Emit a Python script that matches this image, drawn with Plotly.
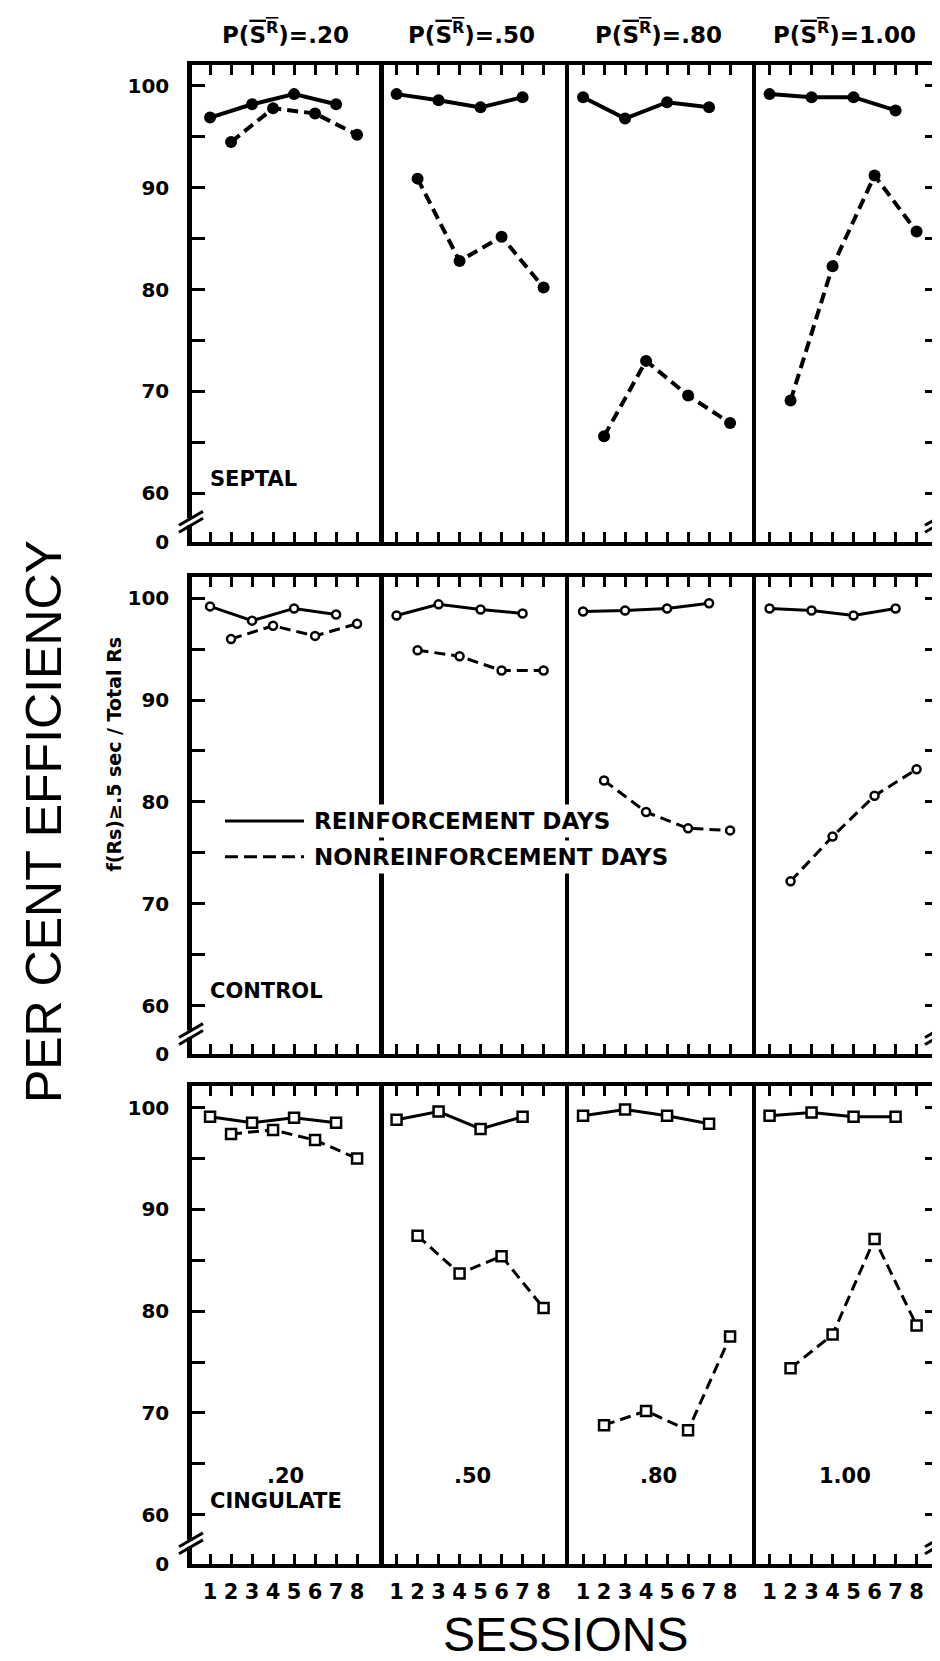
import plotly.graph_objects as go

# ---------------- data ----------------
prob_labels = [".20", ".50", ".80", "1.00"]
group_names = ["SEPTAL", "CONTROL", "CINGULATE"]
sessions_reinf = [1, 3, 5, 7]
sessions_nonreinf = [2, 4, 6, 8]
session_ticks = [1, 2, 3, 4, 5, 6, 7, 8]

septal_reinf = [[96.9, 98.2, 99.2, 98.2], [99.2, 98.6, 97.9, 98.9],
                [98.9, 96.8, 98.4, 97.9], [99.2, 98.9, 98.9, 97.6]]
septal_nonreinf = [[94.5, 97.8, 97.3, 95.2], [90.9, 82.8, 85.2, 80.2],
                   [65.6, 73.0, 69.6, 66.9], [69.1, 82.3, 91.2, 85.7]]
control_reinf = [[99.2, 97.8, 99.0, 98.4], [98.3, 99.4, 98.9, 98.5],
                 [98.7, 98.8, 99.0, 99.5], [99.0, 98.8, 98.3, 99.0]]
control_nonreinf = [[96.0, 97.3, 96.3, 97.5], [94.9, 94.3, 92.9, 92.9],
                    [82.1, 79.0, 77.4, 77.2], [72.2, 76.6, 80.6, 83.2]]
cingulate_reinf = [[99.1, 98.5, 99.0, 98.5], [98.8, 99.6, 97.9, 99.1],
                   [99.2, 99.8, 99.2, 98.4], [99.2, 99.5, 99.1, 99.1]]
cingulate_nonreinf = [[97.4, 97.8, 96.8, 95.0], [87.4, 83.7, 85.4, 80.3],
                      [68.8, 70.2, 68.3, 77.5], [74.4, 77.7, 87.1, 78.6]]

y_tickvals = [55.2, 60, 70, 80, 90, 100]
y_ticktext = ["0", "60", "70", "80", "90", "100"]
y_minor_vals = [65, 75, 85, 95]

reinf_data = [septal_reinf, control_reinf, cingulate_reinf]
nonreinf_data = [septal_nonreinf, control_nonreinf, cingulate_nonreinf]

# ---------------- layout geometry ----------------
W, H = 940, 1661
FONT = "Liberation Sans, Arial, sans-serif"
FONT_B = "DejaVu Sans, Liberation Sans, sans-serif"
x_left, panel_w = 184, 186.5
rows_px = [(57, 538), (573, 1054), (1086, 1567)]
x_range = [0.14, 9.02]
y_range = [55.2, 102.1]


def px(x):
    return x / W


def py(y):
    return 1 - y / H


marker_styles = [
    dict(symbol="circle", size=12, color="black", line=dict(color="black", width=0)),
    dict(symbol="circle", size=8, color="white", line=dict(color="black", width=2.5)),
    dict(symbol="square", size=10, color="white", line=dict(color="black", width=2.5)),
]
line_widths = [4, 3, 3]

fig = go.Figure()
layout_axes = {}
annotations = []
shapes = []

for r in range(3):
    top, bot = rows_px[r]
    for c in range(4):
        idx = r * 4 + c + 1
        xa = "x" if idx == 1 else f"x{idx}"
        ya = "y" if idx == 1 else f"y{idx}"
        xname = "xaxis" if idx == 1 else f"xaxis{idx}"
        yname = "yaxis" if idx == 1 else f"yaxis{idx}"
        x0 = x_left + c * panel_w
        layout_axes[xname] = dict(
            domain=[px(x0), px(x0 + panel_w)], anchor=ya, range=x_range,
            tickvals=session_ticks, ticktext=[str(s) for s in session_ticks],
            ticks="inside", ticklen=10, tickwidth=3, tickcolor="black",
            showline=True, linewidth=4, linecolor="black", mirror="ticks",
            showgrid=False, zeroline=False, fixedrange=True,
            showticklabels=(r == 2), ticklabelstandoff=6,
            tickfont=dict(family=FONT_B, size=21, color="black", weight="bold"),
        )
        ycfg = dict(
            domain=[py(bot), py(top)], anchor=xa, range=y_range,
            showline=True, linecolor="black",
            showgrid=False, zeroline=False, fixedrange=True,
            tickvals=y_tickvals, ticktext=y_ticktext,
            tickfont=dict(family=FONT_B, size=20, color="black", weight="bold"),
        )
        if c == 0:
            ycfg.update(linewidth=4.5, mirror=True, ticks="inside", ticklen=13,
                        tickwidth=3, tickcolor="black", showticklabels=True,
                        ticklabelstandoff=14,
                        minor=dict(tickvals=y_minor_vals, ticks="inside", ticklen=13,
                                   tickwidth=3, tickcolor="black"))
        elif c == 3:
            ycfg.update(linewidth=4.5, side="right", mirror=False, ticks="inside",
                        ticklen=13, tickwidth=3, tickcolor="black",
                        showticklabels=False,
                        minor=dict(tickvals=y_minor_vals, ticks="inside", ticklen=13,
                                   tickwidth=3, tickcolor="black"))
        else:
            ycfg.update(linewidth=3.5, side="right", mirror=False, ticks="",
                        showticklabels=False)
        layout_axes[yname] = ycfg

        ms = marker_styles[r]
        fig.add_trace(go.Scatter(
            x=sessions_reinf, y=reinf_data[r][c], xaxis=xa, yaxis=ya,
            mode="lines+markers", showlegend=False, cliponaxis=False,
            line=dict(color="black", width=line_widths[r], dash="solid"),
            marker=ms, name="REINFORCEMENT DAYS"))
        fig.add_trace(go.Scatter(
            x=sessions_nonreinf, y=nonreinf_data[r][c], xaxis=xa, yaxis=ya,
            mode="lines+markers", showlegend=False, cliponaxis=False,
            line=dict(color="black", width=line_widths[r], dash="11px,6px"),
            marker=ms, name="NONREINFORCEMENT DAYS"))

        if r == 2:
            annotations.append(dict(
                x=4.6, y=63.8, xref=xa, yref=ya, text=f"<b>{prob_labels[c]}</b>",
                xanchor="center", yanchor="middle",
                showarrow=False, font=dict(family=FONT_B, size=21, color="black")))
        if r == 0:
            annotations.append(dict(
                x=px(x0 + panel_w / 2), y=py(25), xref="paper", yref="paper",
                xanchor="center", yanchor="middle",
                text=f"<b>P(<span style='text-decoration:overline'>S<sup>R</sup></span>)=</b><b>{prob_labels[c]}</b>",
                showarrow=False, font=dict(family=FONT_B, size=23, color="black")))

    # group label
    annotations.append(dict(
        x=0.92, y=61.4, xref="x" if r == 0 else f"x{r * 4 + 1}",
        yref="y" if r == 0 else f"y{r * 4 + 1}",
        text=f"<b>{group_names[r]}</b>", showarrow=False, xanchor="left",
        yanchor="middle", font=dict(family=FONT_B, size=21, color="black")))

    # axis break marks (left and right)
    yb = bot - 21
    for xb in (x_left, x_left + 4 * panel_w):
        shapes.append(dict(type="rect", xref="paper", yref="paper",
                           x0=px(xb - 5), x1=px(xb + 5), y0=py(yb + 4), y1=py(yb - 3),
                           fillcolor="white", line=dict(width=0), layer="above"))
        for dy in (-3, 4):
            shapes.append(dict(type="line", xref="paper", yref="paper",
                               x0=px(xb - 13), y0=py(yb + dy + 7),
                               x1=px(xb + 11), y1=py(yb + dy - 7),
                               line=dict(color="black", width=3), layer="above"))

# legend (inside the control row)
shapes.append(dict(type="line", xref="paper", yref="paper",
                   x0=px(217), x1=px(296), y0=py(819), y1=py(819),
                   line=dict(color="black", width=3), layer="above"))
shapes.append(dict(type="line", xref="paper", yref="paper",
                   x0=px(217), x1=px(296), y0=py(855), y1=py(855),
                   line=dict(color="black", width=3, dash="13px,6px"), layer="above"))
annotations.append(dict(x=px(302), y=py(819), xref="paper", yref="paper",
                        text="<b>REINFORCEMENT DAYS</b>", showarrow=False,
                        xanchor="left", yanchor="middle", bgcolor="white", borderpad=3,
                        font=dict(family=FONT_B, size=23, color="black")))
annotations.append(dict(x=px(302), y=py(855), xref="paper", yref="paper",
                        text="<b>NONREINFORCEMENT DAYS</b>", showarrow=False,
                        xanchor="left", yanchor="middle", bgcolor="white", borderpad=3,
                        font=dict(family=FONT_B, size=23, color="black")))

# axis titles
annotations.append(dict(x=px(36), y=py(820), xref="paper", yref="paper",
                        xanchor="center", yanchor="middle",
                        text="PER CENT EFFICIENCY", textangle=-90, showarrow=False,
                        font=dict(family=FONT, size=50, color="black")))
annotations.append(dict(x=px(106), y=py(752), xref="paper", yref="paper",
                        xanchor="center", yanchor="middle",
                        text="<b>f(Rs)≥.5 sec / Total Rs</b>", textangle=-90,
                        showarrow=False, font=dict(family=FONT_B, size=19, color="black")))
annotations.append(dict(x=px(557), y=py(1638), xref="paper", yref="paper",
                        xanchor="center", yanchor="middle",
                        text="SESSIONS", showarrow=False,
                        font=dict(family=FONT, size=48, color="black")))

fig.update_layout(
    width=W, height=H, margin=dict(l=0, r=0, t=0, b=0),
    paper_bgcolor="white", plot_bgcolor="white",
    annotations=annotations, shapes=shapes, showlegend=False,
    **layout_axes,
)

fig.write_html("out.html")
